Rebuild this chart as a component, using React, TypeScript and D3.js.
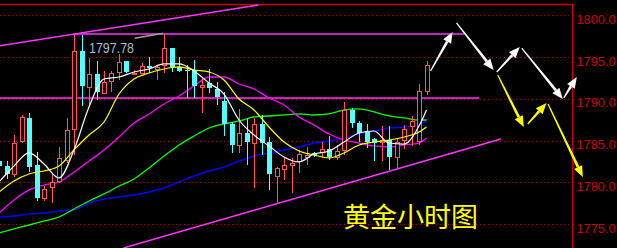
import React from 'react';
import * as d3 from 'd3';

const W = 617;
const H = 248;

const priceTicks = [1800, 1795, 1790, 1785, 1780, 1775];

// candle OHLC (index 0..57)
const opens = [1782.55,1781.95,1780.99,1784.94,1787.70,1782.07,1778.12,1779.43,1780.15,1782.67,1786.38,1795.72,1791.41,1792.97,1790.69,1792.13,1793.21,1794.53,1792.97,1793.09,1793.93,1793.57,1794.05,1796.08,1793.81,1793.45,1793.45,1791.41,1791.89,1791.17,1789.73,1786.98,1784.47,1785.90,1784.71,1786.98,1784.82,1780.75,1781.59,1782.07,1782.55,1783.03,1783.51,1783.63,1783.99,1783.03,1783.87,1788.66,1787.10,1786.02,1785.18,1784.82,1785.06,1783.03,1785.06,1786.74,1784.94,1790.93];
const highs = [1782.91,1782.55,1785.66,1788.06,1788.30,1783.63,1779.55,1780.99,1784.23,1787.70,1797.70,1797.64,1794.89,1794.53,1793.33,1793.33,1795.37,1794.53,1793.45,1794.29,1795.01,1794.05,1797.78,1796.08,1795.01,1794.05,1794.65,1792.61,1793.57,1792.01,1790.81,1787.22,1788.78,1787.70,1787.70,1788.06,1785.42,1781.83,1783.03,1782.91,1783.87,1784.23,1783.63,1784.82,1785.54,1784.47,1789.61,1788.90,1787.34,1786.98,1785.30,1786.74,1786.74,1785.18,1786.86,1787.94,1791.77,1794.53];
const lows = [1781.47,1780.39,1780.63,1784.71,1781.23,1777.76,1777.76,1777.52,1779.91,1782.31,1783.27,1789.14,1789.14,1789.85,1790.69,1790.81,1792.25,1793.09,1792.97,1792.97,1793.09,1792.25,1793.09,1793.21,1793.21,1790.09,1790.09,1788.30,1790.69,1789.26,1785.54,1783.51,1783.51,1782.07,1779.32,1783.27,1779.08,1777.40,1780.27,1778.72,1781.11,1782.07,1783.03,1782.91,1782.67,1782.67,1783.27,1786.50,1784.82,1784.11,1782.55,1782.55,1781.47,1781.59,1783.99,1784.35,1784.47,1790.45];
const closes = [1781.95,1780.99,1784.71,1787.82,1781.83,1778.12,1779.20,1780.03,1782.91,1786.26,1795.72,1791.53,1792.97,1790.81,1792.01,1793.09,1794.41,1793.21,1793.09,1793.93,1793.69,1793.81,1796.08,1793.81,1793.33,1793.33,1791.53,1791.65,1791.29,1790.21,1786.98,1784.47,1785.90,1784.82,1786.98,1784.71,1780.99,1781.71,1782.07,1782.31,1783.39,1783.27,1783.27,1783.99,1783.03,1783.75,1788.66,1787.10,1785.90,1784.82,1784.71,1785.06,1783.03,1784.82,1786.38,1787.34,1790.93,1794.05];

// moving averages sampled at candle indices
const maIdx = [0,2,4,6,8,10,12,14,16,18,20,22,24,26,28,30,32,34,36,38,40,42,44,46,48,50,52,54,56,57];
const maWhite = [1780.04,1781.95,1783.51,1782.19,1780.52,1783.87,1789.02,1792.37,1792.61,1793.21,1793.57,1794.17,1794.17,1793.33,1791.89,1790.57,1787.46,1785.66,1784.35,1783.03,1782.43,1783.39,1783.75,1784.82,1785.90,1786.14,1784.70,1784.58,1786.74,1788.66];
const maYellow = [1778.84,1780.16,1780.99,1781.35,1781.95,1783.87,1785.66,1787.22,1790.57,1792.37,1793.09,1793.57,1793.81,1793.45,1793.21,1792.25,1789.97,1788.66,1786.62,1784.82,1783.75,1783.27,1782.91,1783.51,1784.47,1784.82,1785.06,1785.42,1786.02,1786.62];
const maMagenta = [1776.32,1777.88,1779.08,1779.67,1780.04,1781.23,1782.55,1783.87,1785.42,1787.10,1788.18,1789.38,1790.33,1791.53,1792.61,1792.61,1791.77,1791.17,1790.09,1789.26,1787.82,1786.86,1785.78,1785.06,1784.70,1784.35,1784.23,1784.47,1784.70,1785.30];
const maGreen = [1773.93,1774.41,1774.88,1775.36,1775.84,1776.80,1777.76,1778.60,1779.55,1780.39,1781.71,1783.15,1784.47,1785.54,1786.50,1786.98,1787.34,1787.82,1787.94,1788.06,1788.18,1788.06,1788.18,1788.66,1788.78,1788.42,1787.94,1787.70,1787.46,1787.46];
const maBlue = [1775.84,1775.96,1776.20,1776.32,1776.56,1776.68,1777.52,1778.00,1778.24,1778.48,1778.84,1779.32,1780.04,1780.75,1781.35,1781.83,1782.55,1783.15,1783.51,1783.87,1784.23,1784.70,1784.94,1785.30,1785.78,1786.14,1786.50,1786.62,1786.98,1787.34];

// drawn lines: [index, price] pairs
const upperChannel = [[0, 1796.32], [34.6, 1801.23]];
const lowerChannel = [[16.6, 1772.13], [66.9, 1785.18]];
const highLine = [[9.9, 1797.75], [62.0, 1797.75]];
const midLine = [[-0.2, 1790.10], [64.0, 1790.10]];
const leader = [[18.1, 1797.25], [21.9, 1797.85]];
const highLabel = '1797.78';

// forecast arrows: [i1, p1, i2, p2]
const whiteArrows = [
  [57.54, 1793.33, 60.48, 1798.00],
  [61.0, 1799.08, 65.95, 1793.45],
  [66.36, 1793.21, 69.43, 1796.20],
  [69.7, 1796.08, 75.17, 1789.97],
  [75.3, 1790.10, 77.04, 1792.61],
];
const yellowArrows = [
  [66.5, 1792.85, 69.96, 1786.62],
  [70.5, 1786.98, 73.0, 1789.50],
  [73.2, 1789.38, 77.84, 1780.63],
];

const title = '黄金小时图';

function Arrow({ x1, y1, x2, y2, color }: any) {
  const dx = x2 - x1, dy = y2 - y1;
  const len = Math.hypot(dx, dy);
  const ux = dx / len, uy = dy / len;
  const hl = 11, hw = 4.5;
  const bx = x2 - ux * hl, by = y2 - uy * hl;
  const px = -uy, py = ux;
  const w0 = 0.6, w1 = 1.4;
  const shaft = `${x1 + px * w0},${y1 + py * w0} ${bx + px * w1},${by + py * w1} ${bx - px * w1},${by - py * w1} ${x1 - px * w0},${y1 - py * w0}`;
  const head = `${x2},${y2} ${bx + px * hw},${by + py * hw} ${bx - px * hw},${by - py * hw}`;
  return (
    <g>
      <polygon points={shaft} fill={color} />
      <polygon points={head} fill={color} />
    </g>
  );
}

export default function App() {
  const x = d3.scaleLinear().domain([0, 57]).range([-1, 426.5]);
  const y = d3.scaleLinear().domain([1775, 1800]).range([224, 15.3]);
  const axisX = 572.5;
  const red = '#ff5555';
  const cyan = '#55ffff';

  const maLine = (vals: number[]) =>
    d3.line<number>().x((_, i) => x(maIdx[i])).y((v) => y(v)).curve(d3.curveMonotoneX)(vals) || '';

  const seg = (pts: number[][]) => d3.line<number[]>().x((d) => x(d[0])).y((d) => y(d[1]))(pts) || '';

  return (
    <svg width={W} height={H} style={{ position: 'absolute', left: 0, top: 0, background: '#000' }}>
      <rect x={0} y={0} width={W} height={H} fill="#000" />

      {/* grid */}
      {priceTicks.map((t) => (
        <line key={t} x1={0} x2={axisX} y1={Math.round(y(t)) + 0.5} y2={Math.round(y(t)) + 0.5} stroke="#a00000" strokeDasharray="1,3" />
      ))}
      {/* frame */}
      <line x1={0} x2={axisX} y1={4.5} y2={4.5} stroke="#cc0000" strokeWidth={1.5} />
      <line x1={axisX} x2={axisX} y1={4} y2={H} stroke="#cc0000" strokeWidth={1.5} />
      {priceTicks.map((t) => (
        <text key={t} x={576.5} y={y(t) + 8.5} fill="#cc0000" fontSize={12.8} fontFamily="Liberation Sans">
          {t.toFixed(1)}
        </text>
      ))}

      {/* trend lines */}
      <path d={seg(upperChannel)} stroke="#ff33ff" strokeWidth={1.5} fill="none" />
      <path d={seg(lowerChannel)} stroke="#ff33ff" strokeWidth={1.5} fill="none" />
      <path d={seg(highLine)} stroke="#ff33ff" strokeWidth={1.5} fill="none" />
      <path d={seg(midLine)} stroke="#ff33ff" strokeWidth={1.5} fill="none" />

      {/* MAs */}
      <path d={maLine(maBlue)} stroke="#0000ff" strokeWidth={1.5} fill="none" />
      <path d={maLine(maGreen)} stroke="#00ff00" strokeWidth={1.3} fill="none" />
      <path d={maLine(maMagenta)} stroke="#ff00ff" strokeWidth={1.3} fill="none" />

      {/* candles */}
      {opens.map((o, i) => {
        const c = closes[i];
        const cx = Math.round(x(i));
        const up = c >= o;
        const top = Math.round(y(Math.max(o, c)));
        const bot = Math.round(y(Math.min(o, c)));
        const hy = Math.round(y(highs[i]));
        const ly = Math.round(y(lows[i]));
        if (up) {
          return (
            <g key={i}>
              <line x1={cx + 0.5} x2={cx + 0.5} y1={hy} y2={top} stroke={red} />
              <line x1={cx + 0.5} x2={cx + 0.5} y1={bot} y2={ly} stroke={red} />
              <rect x={cx - 1.5} y={top + 0.5} width={4} height={Math.max(bot - top, 1)} fill="#000" stroke={red} />
            </g>
          );
        }
        return (
          <g key={i}>
            <line x1={cx + 0.5} x2={cx + 0.5} y1={hy} y2={ly} stroke={cyan} />
            <rect x={cx - 2} y={top} width={5} height={Math.max(bot - top, 1)} fill={cyan} />
          </g>
        );
      })}

      <path d={maLine(maYellow)} stroke="#ffff00" strokeWidth={1.2} fill="none" />
      <path d={maLine(maWhite)} stroke="#ffffff" strokeWidth={1.2} fill="none" />

      {/* high label */}
      <path d={seg(leader)} stroke="#a0a0a0" strokeWidth={1.5} fill="none" />
      <text x={89} y={52.5} fill="#aabbcc" fontSize={14} fontFamily="Liberation Sans" textLength={45} lengthAdjust="spacingAndGlyphs">{highLabel}</text>

      {/* arrows */}
      {whiteArrows.map((a, k) => (
        <Arrow key={'w' + k} x1={x(a[0])} y1={y(a[1])} x2={x(a[2])} y2={y(a[3])} color="#ffffff" />
      ))}
      {yellowArrows.map((a, k) => (
        <Arrow key={'y' + k} x1={x(a[0])} y1={y(a[1])} x2={x(a[2])} y2={y(a[3])} color="#ffff00" />
      ))}

      <text x={343} y={227} fill="#ffff00" fontSize={27} fontFamily="Noto Sans CJK SC">{title}</text>
    </svg>
  );
}
